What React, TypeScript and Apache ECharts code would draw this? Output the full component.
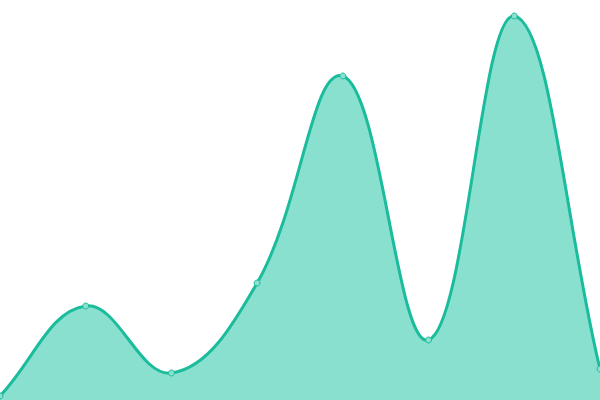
import React, { useEffect, useRef } from 'react';
import * as echarts from 'echarts';

const categories = ['A', 'B', 'C', 'D', 'E', 'F', 'G', 'H'];
const values = [4, 94, 27, 117, 324, 60, 384, 31];

const LINE = '#1abc9c';
const FILL = '#8ae0cf';
const TENSION = 0.4;

// cardinal spline control points, same maths as a tension-based spline
const controlPoints = (pts: number[][]) => {
    return pts.map((p1, i) => {
        const p0 = pts[i - 1] || p1;
        const p2 = pts[i + 1] || p1;
        const d01 = Math.hypot(p1[0] - p0[0], p1[1] - p0[1]);
        const d12 = Math.hypot(p2[0] - p1[0], p2[1] - p1[1]);
        const sum = d01 + d12 || 1;
        const fa = TENSION * (d01 / sum);
        const fb = TENSION * (d12 / sum);
        return {
            prev: [p1[0] - fa * (p2[0] - p0[0]), p1[1] - fa * (p2[1] - p0[1])],
            next: [p1[0] + fb * (p2[0] - p0[0]), p1[1] + fb * (p2[1] - p0[1])]
        };
    });
};

const App: React.FC = () => {
    const chartRef = useRef<HTMLDivElement | null>(null);

    useEffect(() => {
        document.body.style.margin = '0';
        if (!chartRef.current) return;
        const chart = echarts.init(chartRef.current, null, { renderer: 'svg' });
        chart.setOption({
            animation: false,
            grid: { left: 0, right: 0, top: 0, bottom: 0 },
            xAxis: {
                type: 'category',
                boundaryGap: false,
                data: categories,
                show: false
            },
            yAxis: {
                type: 'value',
                min: 0,
                max: 400,
                show: false
            },
            series: [
                {
                    type: 'custom',
                    data: values.map((v, i) => [i, v]),
                    encode: { x: 0, y: 1 },
                    clip: false,
                    silent: true,
                    renderItem: (params: any, api: any) => {
                        if (params.dataIndex !== 0) return null;
                        const pts = values.map((v, i) => api.coord([i, v]));
                        const base = api.coord([0, 0])[1];
                        const cps = controlPoints(pts);
                        let line = `M${pts[0][0]},${pts[0][1]}`;
                        for (let i = 1; i < pts.length; i++) {
                            const a = cps[i - 1].next;
                            const b = cps[i].prev;
                            line += ` C${a[0]},${a[1]} ${b[0]},${b[1]} ${pts[i][0]},${pts[i][1]}`;
                        }
                        const last = pts[pts.length - 1];
                        const area = `${line} L${last[0]},${base} L${pts[0][0]},${base} Z`;
                        return {
                            type: 'group',
                            children: [
                                { type: 'path', shape: { pathData: area }, style: { fill: FILL } },
                                { type: 'path', shape: { pathData: line }, style: { fill: 'none', stroke: LINE, lineWidth: 3 } }
                            ]
                        };
                    }
                },
                {
                    type: 'line',
                    data: values,
                    z: 5,
                    symbol: 'circle',
                    symbolSize: 6,
                    lineStyle: { opacity: 0, width: 0 },
                    itemStyle: { color: FILL, borderColor: LINE, borderWidth: 1 }
                }
            ]
        });
        return () => {
            chart.dispose();
        };
    }, []);

    return <div ref={chartRef} style={{ width: '600px', height: '400px' }} />;
};

export default App;
